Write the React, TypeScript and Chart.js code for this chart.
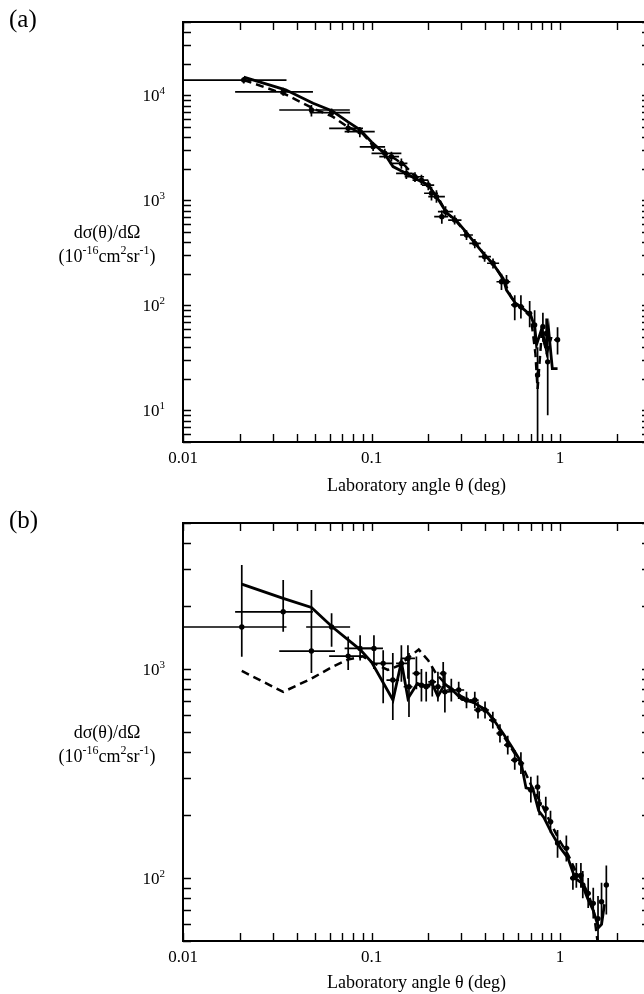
import React, { useEffect, useRef } from 'react';
import { Chart, registerables } from 'chart.js';

Chart.register(...registerables);

const FONT = "'Liberation Serif', 'Times New Roman', serif";

// ---------- Panel (a) ----------
const aPtX = [0.021, 0.034, 0.048, 0.0614, 0.0752, 0.0867, 0.102, 0.1176, 0.1275, 0.144, 0.153, 0.17, 0.184, 0.2, 0.208, 0.221, 0.236, 0.247, 0.276, 0.319, 0.353, 0.398, 0.441, 0.489, 0.52, 0.575, 0.62, 0.69, 0.733, 0.76, 0.811, 0.844, 0.86, 0.97];
const aPtY = [14000, 10800, 7260, 6840, 4860, 4510, 3240, 2810, 2610, 2250, 1810, 1680, 1560, 1400, 1170, 1085, 700, 780, 650, 468, 390, 291, 252, 168, 168, 101, 97, 84, 65, 21.7, 62.7, 54, 29, 47];
const aXLo = [0.008, 0.0189, 0.0324, 0.047, 0.0596, 0.072, 0.0866, 0.1, 0.11, 0.125, 0.135, 0.15, 0.165, 0.185, 0.19, 0.2, 0.215, 0.225, 0.255, 0.295, 0.33, 0.37, 0.41, 0.46, 0.5, 0.55, 0.6, 0.67, 0.72, 0.75, 0.79, 0.82, 0.85, 0.93];
const aXHi = [0.0354, 0.0489, 0.0767, 0.077, 0.0901, 0.104, 0.118, 0.144, 0.14, 0.155, 0.165, 0.19, 0.2, 0.215, 0.225, 0.245, 0.255, 0.27, 0.3, 0.345, 0.38, 0.43, 0.475, 0.52, 0.545, 0.6, 0.645, 0.71, 0.75, 0.77, 0.83, 0.87, 0.87, 1.0];
const aYLo = [13000, 9900, 6300, 6200, 4400, 4000, 2950, 2500, 2350, 2000, 1600, 1500, 1400, 1250, 1000, 950, 600, 690, 590, 420, 350, 260, 225, 140, 145, 72, 75, 62, 45, 4, 45, 40, 9, 34];
const aYHi = [15000, 11800, 8100, 7500, 5400, 5000, 3600, 3100, 2900, 2500, 2050, 1850, 1750, 1550, 1350, 1250, 800, 880, 720, 520, 430, 325, 280, 200, 195, 125, 125, 110, 90, 40, 85, 75, 75, 62];
const aSolidX = [0.021, 0.035, 0.049, 0.062, 0.075, 0.087, 0.1, 0.117, 0.13, 0.153, 0.17, 0.2, 0.23, 0.25, 0.28, 0.32, 0.35, 0.4, 0.44, 0.5, 0.52, 0.58, 0.65, 0.7, 0.735, 0.75, 0.8, 0.84, 0.87, 0.91, 0.97];
const aSolidY = [14900, 11300, 8400, 7100, 5600, 4700, 3600, 2800, 2100, 1800, 1620, 1400, 970, 760, 650, 490, 400, 300, 250, 180, 140, 105, 90, 80, 62, 42, 60, 40, 58, 25, 25];
const aDashX = [0.021, 0.035, 0.05, 0.062, 0.075, 0.09, 0.1, 0.12, 0.135, 0.15, 0.17, 0.2, 0.23, 0.25, 0.28, 0.32, 0.36, 0.4, 0.45, 0.5, 0.55, 0.6, 0.7, 0.74, 0.76, 0.8, 0.85, 0.9];
const aDashY = [14000, 10200, 7400, 6300, 5000, 4300, 3450, 2800, 2450, 2150, 1700, 1380, 1000, 760, 640, 480, 390, 295, 240, 175, 120, 100, 78, 35, 16, 55, 35, 50];
const aYMajor = [10, 100, 1000, 10000];
const aYExp = ['1', '2', '3', '4'];

// ---------- Panel (b) ----------
const bPtX = [0.0205, 0.034, 0.048, 0.0614, 0.0752, 0.087, 0.103, 0.1153, 0.1297, 0.144, 0.156, 0.158, 0.173, 0.184, 0.195, 0.21, 0.225, 0.24, 0.245, 0.265, 0.29, 0.319, 0.353, 0.367, 0.4, 0.44, 0.48, 0.528, 0.575, 0.62, 0.7, 0.76, 0.775, 0.84, 0.89, 0.97, 1.08, 1.17, 1.22, 1.29, 1.32, 1.41, 1.5, 1.59, 1.66, 1.76];
const bPtY = [1590, 1880, 1220, 1590, 1154, 1256, 1256, 1065, 886, 1065, 1125, 823, 954, 838, 823, 869, 823, 954, 778, 794, 794, 711, 711, 637, 637, 570, 492, 433, 367, 354, 264, 273, 227, 215, 186, 147, 139, 100, 103, 103, 92.7, 84.5, 75.7, 64, 77, 92.7];
const bXLo = [0.008, 0.0189, 0.0324, 0.045, 0.0596, 0.072, 0.09, 0.105, 0.12, 0.135, 0.145, 0.148, 0.165, 0.175, 0.185, 0.2, 0.215, 0.23, 0.235, 0.25, 0.275, 0.3, 0.335, 0.35, 0.38, 0.42, 0.46, 0.505, 0.55, 0.6, 0.675, 0.735, 0.75, 0.81, 0.86, 0.94, 1.04, 1.13, 1.18, 1.25, 1.28, 1.37, 1.46, 1.56, 1.62, 1.72];
const bXHi = [0.0354, 0.0489, 0.064, 0.077, 0.0901, 0.104, 0.115, 0.13, 0.14, 0.155, 0.17, 0.165, 0.182, 0.195, 0.205, 0.22, 0.235, 0.25, 0.26, 0.28, 0.31, 0.34, 0.37, 0.385, 0.42, 0.46, 0.5, 0.55, 0.6, 0.645, 0.725, 0.785, 0.8, 0.87, 0.92, 1.0, 1.12, 1.21, 1.26, 1.33, 1.36, 1.45, 1.54, 1.62, 1.7, 1.8];
const bYLo = [1145, 1510, 957, 1280, 990, 1100, 1000, 687, 570, 870, 900, 590, 800, 700, 700, 740, 700, 840, 620, 700, 720, 650, 650, 580, 580, 520, 445, 390, 330, 315, 230, 240, 200, 190, 165, 125, 120, 88, 90, 90, 80, 72, 64, 50, 60, 67];
const bYHi = [3150, 2670, 2390, 1850, 1430, 1450, 1450, 1230, 1193, 1300, 1300, 1193, 1150, 1000, 970, 1020, 970, 1080, 950, 900, 870, 780, 780, 700, 700, 625, 545, 480, 410, 400, 305, 310, 260, 245, 210, 170, 160, 115, 118, 118, 108, 100, 90, 82, 95, 115];
const bSolidX = [0.0205, 0.034, 0.048, 0.062, 0.087, 0.1, 0.13, 0.144, 0.156, 0.175, 0.19, 0.21, 0.225, 0.245, 0.27, 0.3, 0.35, 0.4, 0.44, 0.5, 0.55, 0.62, 0.66, 0.72, 0.77, 0.82, 0.9, 1.0, 1.1, 1.2, 1.3, 1.4, 1.5, 1.6, 1.66, 1.72];
const bSolidY = [2550, 2180, 1970, 1590, 1240, 1080, 711, 1084, 724, 854, 830, 850, 740, 850, 790, 720, 690, 640, 580, 490, 430, 360, 270, 265, 210, 195, 165, 140, 125, 100, 95, 80, 70, 58, 60, 75];
const bDashX = [0.0205, 0.034, 0.048, 0.062, 0.075, 0.09, 0.1, 0.122, 0.14, 0.16, 0.178, 0.2, 0.22, 0.25, 0.3, 0.35, 0.4, 0.45, 0.5, 0.55, 0.62, 0.7, 0.8, 0.9, 1.0, 1.1, 1.2, 1.3, 1.4, 1.5, 1.58, 1.62];
const bDashY = [980, 778, 900, 1025, 1110, 1150, 1080, 990, 1040, 1150, 1240, 1100, 950, 840, 740, 690, 640, 560, 480, 420, 355, 280, 225, 180, 150, 130, 110, 98, 85, 72, 50, 45];
const bYMajor = [100, 1000];
const bYExp = ['2', '3'];

// ---------- shared axis text ----------
const xMajor = [0.01, 0.1, 1];
const xMajorLabels = ['0.01', '0.1', '1'];
const xTitle = 'Laboratory angle θ (deg)';
const yTitle1 = 'dσ(θ)/dΩ';
const yTitle2: [string, boolean][] = [['(10', false], ['-16', true], ['cm', false], ['2', true], ['sr', false], ['-1', true], [')', false]];

function logMinorTicks(min: number, max: number) {
  const out: number[] = [];
  for (let e = Math.floor(Math.log10(min)); e <= Math.ceil(Math.log10(max)); e++) {
    for (let m = 1; m <= 9; m++) {
      const v = m * Math.pow(10, e);
      if (v >= min * 0.9999 && v <= max * 1.0001) out.push(v);
    }
  }
  return out;
}

function drawRich(ctx: CanvasRenderingContext2D, segs: [string, boolean][], x0: number, baseline: number, size: number, align: 'center' | 'right') {
  const big = `${size}px ${FONT}`;
  const small = `${Math.round(size * 0.66)}px ${FONT}`;
  let w = 0;
  for (const [t, sup] of segs) {
    ctx.font = sup ? small : big;
    w += ctx.measureText(t).width;
  }
  let x = align === 'center' ? x0 - w / 2 : x0 - w;
  ctx.textAlign = 'left';
  ctx.textBaseline = 'alphabetic';
  for (const [t, sup] of segs) {
    ctx.font = sup ? small : big;
    ctx.fillText(t, x, sup ? baseline - size * 0.42 : baseline);
    x += ctx.measureText(t).width;
  }
}

type PanelCfg = {
  letter: string;
  ptX: number[]; ptY: number[]; xLo: number[]; xHi: number[]; yLo: number[]; yHi: number[];
  solidX: number[]; solidY: number[]; dashX: number[]; dashY: number[];
  yMin: number; yMax: number; yMajor: number[]; yExp: string[];
  padTop: number; xAxisH: number;
};

function makeChart(canvas: HTMLCanvasElement, c: PanelCfg) {
  const errPlugin = {
    id: 'errbars',
    beforeDatasetsDraw(chart: any) {
      const { ctx, chartArea: a, scales } = chart;
      const xs = scales.x, ys = scales.y;
      ctx.save();
      ctx.beginPath();
      ctx.rect(a.left, a.top, a.right - a.left, a.bottom - a.top);
      ctx.clip();
      ctx.strokeStyle = '#000';
      ctx.lineWidth = 1.7;
      for (let i = 0; i < c.ptX.length; i++) {
        const px = xs.getPixelForValue(c.ptX[i]);
        const py = ys.getPixelForValue(c.ptY[i]);
        ctx.beginPath();
        ctx.moveTo(xs.getPixelForValue(c.xLo[i]), py);
        ctx.lineTo(xs.getPixelForValue(c.xHi[i]), py);
        ctx.moveTo(px, ys.getPixelForValue(c.yLo[i]));
        ctx.lineTo(px, ys.getPixelForValue(c.yHi[i]));
        ctx.stroke();
      }
      ctx.restore();
    },
  };

  const framePlugin = {
    id: 'frame',
    afterDraw(chart: any) {
      const { ctx, chartArea: a, scales } = chart;
      const xs = scales.x, ys = scales.y;
      const TL = 8;
      ctx.save();
      ctx.strokeStyle = '#000';
      ctx.fillStyle = '#000';
      ctx.lineWidth = 2;
      ctx.strokeRect(a.left, a.top, a.right - a.left, a.bottom - a.top);
      ctx.lineWidth = 1.4;
      ctx.beginPath();
      for (const v of logMinorTicks(0.01, 3)) {
        const px = Math.round(xs.getPixelForValue(v)) + 0.5;
        ctx.moveTo(px, a.bottom); ctx.lineTo(px, a.bottom - TL);
        ctx.moveTo(px, a.top); ctx.lineTo(px, a.top + TL);
      }
      for (const v of logMinorTicks(c.yMin, c.yMax)) {
        const py = Math.round(ys.getPixelForValue(v)) + 0.5;
        ctx.moveTo(a.left, py); ctx.lineTo(a.left + TL, py);
        ctx.moveTo(a.right, py); ctx.lineTo(a.right - TL, py);
      }
      ctx.stroke();
      // y tick labels 10^n
      c.yMajor.forEach((v, i) => {
        const py = ys.getPixelForValue(v);
        drawRich(ctx, [['10', false], [c.yExp[i], true]], 165, py + 6, 17, 'right');
      });
      // y title
      const mid = (a.top + a.bottom) / 2;
      ctx.font = `18px ${FONT}`;
      ctx.textAlign = 'center';
      ctx.textBaseline = 'alphabetic';
      ctx.fillText(yTitle1, 107, mid + 6);
      drawRich(ctx, yTitle2, 107, mid + 30, 18, 'center');
      // panel letter
      ctx.font = `25px ${FONT}`;
      ctx.textAlign = 'left';
      ctx.textBaseline = 'middle';
      ctx.fillText(c.letter, 9, a.top - 2);
      ctx.restore();
    },
  };

  const pts = (xs: number[], ys: number[]) => xs.map((x, i) => ({ x, y: ys[i] }));

  return new Chart(canvas, {
    type: 'scatter',
    data: {
      datasets: [
        { label: 'data', data: pts(c.ptX, c.ptY), showLine: false, pointRadius: 2.7, pointBackgroundColor: '#000', pointBorderWidth: 0 },
        { label: 'solid', data: pts(c.solidX, c.solidY), showLine: true, borderColor: '#000', borderWidth: 2.8, pointRadius: 0, fill: false, tension: 0 },
        { label: 'dashed', data: pts(c.dashX, c.dashY), showLine: true, borderColor: '#000', borderWidth: 2.5, borderDash: [8, 5], pointRadius: 0, fill: false, tension: 0 },
      ],
    },
    options: {
      responsive: false,
      animation: false,
      devicePixelRatio: 1,
      layout: { padding: { left: 0, right: 10, top: c.padTop, bottom: 0 } },
      plugins: { legend: { display: false }, tooltip: { enabled: false } },
      scales: {
        x: {
          type: 'logarithmic',
          min: 0.01,
          max: 3,
          border: { display: false },
          grid: { display: false, drawTicks: false },
          afterBuildTicks: (s: any) => { s.ticks = xMajor.map((v) => ({ value: v })); },
          afterFit: (s: any) => { s.height = c.xAxisH; },
          ticks: {
            autoSkip: false,
            maxRotation: 0,
            padding: 6,
            color: '#000',
            font: { family: FONT, size: 17 },
            callback: (v: any) => { const i = xMajor.indexOf(Number(v)); return i >= 0 ? xMajorLabels[i] : ''; },
          },
          title: { display: true, text: xTitle, color: '#000', font: { family: FONT, size: 18 }, padding: { top: 0, bottom: 0 } },
        },
        y: {
          type: 'logarithmic',
          min: c.yMin,
          max: c.yMax,
          border: { display: false },
          grid: { display: false, drawTicks: false },
          ticks: { display: false },
          afterFit: (s: any) => { s.width = 183; },
        },
      },
    } as any,
    plugins: [errPlugin, framePlugin],
  });
}

function Panel({ cfg, top }: { cfg: PanelCfg; top: number }) {
  const ref = useRef<HTMLCanvasElement>(null);
  useEffect(() => {
    const chart = makeChart(ref.current!, cfg);
    return () => chart.destroy();
  }, []);
  return (
    <canvas
      ref={ref}
      width={660}
      height={497}
      style={{ position: 'absolute', left: 0, top, width: 660, height: 497 }}
    />
  );
}

const panelA: PanelCfg = {
  letter: '(a)', ptX: aPtX, ptY: aPtY, xLo: aXLo, xHi: aXHi, yLo: aYLo, yHi: aYHi,
  solidX: aSolidX, solidY: aSolidY, dashX: aDashX, dashY: aDashY,
  yMin: 5, yMax: 50000, yMajor: aYMajor, yExp: aYExp, padTop: 22, xAxisH: 55,
};
const panelB: PanelCfg = {
  letter: '(b)', ptX: bPtX, ptY: bPtY, xLo: bXLo, xHi: bXHi, yLo: bYLo, yHi: bYHi,
  solidX: bSolidX, solidY: bSolidY, dashX: bDashX, dashY: bDashY,
  yMin: 50, yMax: 5000, yMajor: bYMajor, yExp: bYExp, padTop: 26, xAxisH: 53,
};

export default function App() {
  return (
    <div style={{ position: 'absolute', left: 0, top: 0, width: 644, height: 994, overflow: 'hidden', background: '#fff' }}>
      <Panel cfg={panelA} top={0} />
      <Panel cfg={panelB} top={497} />
    </div>
  );
}
